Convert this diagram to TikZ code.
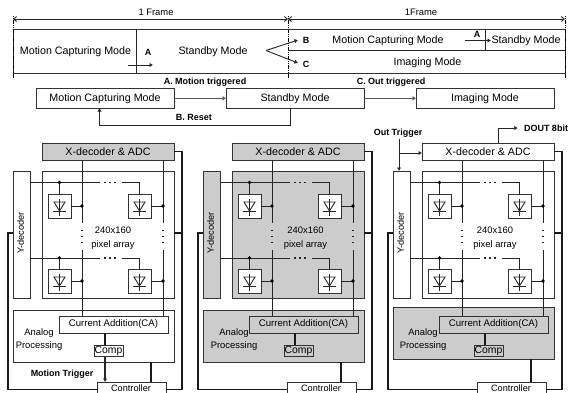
\documentclass[tikz,border=0pt]{standalone}
\usepackage{fontspec}
\setmainfont{Liberation Sans}
\usetikzlibrary{arrows.meta,calc}
\definecolor{gfill}{gray}{0.8}
\tikzset{
  x=1pt,y=-1pt,
  wire/.style={line width=0.9pt,black!85},
  hv/.style={line width=1.2pt,black!90},
  arr/.style={wire,-{Latex[length=3.5pt,width=4.5pt]}},
  garr/.style={line width=1.3pt,black!65,-{Latex[length=3.5pt,width=5pt]}},
  box/.style={draw=black!80,line width=0.85pt,inner sep=0pt,outer sep=0pt,anchor=north west},
  lab/.style={inner sep=0pt,font=\fontsize{10.7}{12}\selectfont},
  small/.style={inner sep=0pt,font=\fontsize{9.2}{11}\selectfont},
  blab/.style={inner sep=0pt,font=\fontsize{9}{11}\selectfont\bfseries},
  conn/.style={circle,fill=black,inner sep=0pt,minimum size=3.8pt},
  vdots/.style={line width=1.4pt,black!85,dash pattern=on 1.5pt off 4.5pt},
  hdots/.style={line width=1.2pt,black!85,dash pattern=on 1.5pt off 3.5pt},
  frameedge/.style={line width=0.9pt,black,dash pattern=on 1.2pt off 0.6pt},
}
\newcommand{\pixcell}[3]{% name, x, y (top-left)
  \node[box,fill=white,minimum width=23pt,minimum height=24pt] (#1) at (#2,#3) {};
  \draw[wire] ($(#1.center)+(0,-7.5)$) -- ($(#1.center)+(0,10)$);
  \draw[wire] ($(#1.center)+(-5.5,-4)$) -- ($(#1.center)+(5.5,-4)$) -- ($(#1.center)+(0,5)$) -- cycle;
  \draw[wire] ($(#1.center)+(-6.5,5)$) -- ($(#1.center)+(6.5,5)$);
}
\newcommand{\panelsk}[8]{
\begin{scope}[shift={(#2,0)}]
  \node[box,fill=#4,minimum width=132pt,minimum height=127pt] (#1arr) at (42,171) {};
  \node[box,fill=#5,minimum width=17pt,minimum height=127pt] (#1y) at (13,171) {};
  \node[rotate=90,small] at (20.5,233) {Y-decoder};
  \node[box,fill=#6,minimum width=161pt,minimum height=52pt] (#1ana) at (13,{310+#7}) {};
  \node[box,fill=#3,minimum width=132pt,minimum height=17pt] (#1x) at (42,143) {};
  \node[box,fill=#6,minimum width=109pt,minimum height=17pt] (#1ca) at (59,316) {};
  \node[box,fill=#6,minimum width=29pt,minimum height=11.5pt] (#1cmp) at (94,345) {};
  \node[box,fill=white,minimum width=69pt,minimum height=20pt] (#1ctl) at (97,382) {};
  \node[lab] at (#1x.center) {X-decoder \& ADC};
  \node[small,font=\fontsize{9.6}{11}\selectfont] at (#1ca.center) {Current Addition(CA)};
  \node[small,font=\fontsize{10.4}{11}\selectfont] at (#1cmp.center) {Comp};
  \node[small] at ($(#1ctl.north)+(-0.5,5.8)$) {Controller};
  \node[inner sep=0pt,font=\fontsize{9.4}{13}\selectfont,align=center] at ({39+#8},340) {Analog\\Processing};
  \node[inner sep=0pt,align=center,font=\fontsize{9.4}{14}\selectfont] at ({113+0.5*#8},238) {240x160\\pixel array};
  \pixcell{#1p1}{48}{194}
  \pixcell{#1p2}{128}{194}
  \pixcell{#1p3}{48}{269}
  \pixcell{#1p4}{128}{269}
  \coordinate (#1r1) at (#1p1.north |- 0,182.5);
  \coordinate (#1r2) at (#1p3.north |- 0,258);
  \draw[wire] (#1y.east |- #1r1) -- (100,182.5);
  \draw[hdots] (104,182.5) -- (118,182.5);
  \draw[wire] (122,182.5) -| (#1p2.north);
  \draw[wire] (#1r1) -- (#1p1.north);
  \node[conn] at (#1r1) {};
  \draw[wire] (#1y.east |- #1r2) -- (100,258);
  \draw[hdots] (104,258) -- (118,258);
  \draw[wire] (122,258) -| (#1p4.north);
  \draw[wire] (#1r2) -- (#1p3.north);
  \node[conn] at (#1r2) {};
  \foreach \cx/\a/\b in {82/p1/p3,163/p2/p4}{
    \draw[wire] (\cx,160) -- (\cx,223);
    \draw[vdots] (\cx,229.5) -- (\cx,245);
    \draw[wire] (\cx,250) -- (\cx,316);
    \draw[wire] (#1\a.east) -- (\cx,206);
    \draw[wire] (#1\b.east) -- (\cx,281);
    \node[conn] at (\cx,206) {};
    \node[conn] at (\cx,281) {};
  }
  \draw[hv] (#1x.east) -- (182,151.5) -- (182,389.5) -- (#1ctl.east |- 0,389.5);
  \draw[hv] (#1ctl.west |- 0,389.5) -- (8,389.5) -- (8,233) -- (#1y.west |- 0,233);
  \draw[hv] (#1arr.east |- 0,233) -- (182,233);
  \draw[hv] (105,333) -- (#1cmp.north -| 105,0);
  \draw[hv] (151,{362+#7}) -- (151,382);
\end{scope}
}
\begin{document}
\begin{tikzpicture}
\useasboundingbox (0,0) rectangle (570,392);
\clip (0,0) rectangle (570,392);
\fill[white] (0,0) rectangle (570,392);
% timing diagram
\coordinate (fa) at (13,19);
\coordinate (fb) at (288,19);
\coordinate (fc) at (565,19);
\draw[wire,{Straight Barb[length=3pt,width=5pt]}-{Straight Barb[length=3pt,width=5pt]}] (fa) -- (fb);
\draw[wire,{Straight Barb[length=3pt,width=5pt]}-{Straight Barb[length=3pt,width=5pt]}] (fb) -- (fc);
\node[small,font=\fontsize{9.4}{11}\selectfont] at (156,12) {1 Frame};
\node[small,font=\fontsize{9.4}{11}\selectfont] at (421,12) {1Frame};
\node[box,minimum width=552pt,minimum height=44pt] (tl) at (13,29) {};
\draw[frameedge] (13,16) -- (13,79);
\draw[frameedge] (288,16) -- (288,79);
\draw[frameedge] (565,16) -- (565,79);
\draw[wire] (136,29) -- (136,73);
\draw[wire] (288,50.5) -- (565,50.5);
\draw[wire] (485,29) -- (485,50.5);
\node[lab] (tm) at (75.5,52) {Motion Capturing Mode};
\node[lab] (ts) at (213,52) {Standby Mode};
\node[blab] (ta) at (148,52) {A};
\coordinate (a1s) at (128,65);
\coordinate (a1e) at (153,65);
\draw[arr] (a1s) -- (a1e);
\coordinate (tip) at (266,50.5);
\coordinate (bend) at (298,40);
\coordinate (cend) at (298,63);
\draw[arr] (tip) -- (bend);
\draw[arr] (tip) -- (cend);
\node[blab] at (306,40) {B};
\node[blab] at (306,64.5) {C};
\node[lab] at (388,41) {Motion Capturing Mode};
\node[lab] at (427.5,63) {Imaging Mode};
\node[lab] at (526,41) {Standby Mode};
\node[blab] at (477,34.5) {A};
\coordinate (a2s) at (465,40.5);
\coordinate (a2e) at (491,40.5);
\draw[arr] (a2s) -- (a2e);
% state diagram
\node[box,minimum width=138pt,minimum height=19.5pt] (m) at (36,88.5) {};
\node[lab] at (m.center) {Motion Capturing Mode};
\node[box,minimum width=138pt,minimum height=19.5pt] (s) at (226,88.5) {};
\node[lab] at (s.center) {Standby Mode};
\node[box,minimum width=138pt,minimum height=19.5pt] (i) at (416,88.5) {};
\node[lab] at (i.center) {Imaging Mode};
\draw[garr] (m) -- (s);
\draw[garr] (s) -- (i);
\draw[arr,line width=1pt] (s.south -| 290,0) -- (290,125) -- (99.5,125) -- (m.south -| 99.5,0);
\node[blab] at (205,82) {A. Motion triggered};
\node[blab] at (391,82) {C. Out triggered};
\node[blab] at (194,117) {B. Reset};
% panels
\panelsk{a}{0}{gfill}{white}{white}{white}{0}{0}
\panelsk{b}{190}{gfill}{gfill}{gfill}{gfill}{0}{5}
\panelsk{c}{380}{white}{white}{white}{gfill}{-3}{4}
% panel 1 motion trigger
\draw[arr,line width=1.1pt] (105,356.5) -- (actl.north -| 105,0);
\node[blab] at (62,374) {Motion Trigger};
% panel 3 triggers
\node[blab] (ot) at (398,133.5) {Out Trigger};
\draw[arr,line width=1pt] (399,139) -- (cy.north -| 399,0);
\draw[arr,line width=1pt] (399,153) -- (cx.west |- 0,153);
\node[blab] (dout) at (546,128) {DOUT 8bit};
\draw[arr,line width=1pt,shorten >=6pt] (cx.north -| 498,0) -- (498,128) -- (dout.west);
\end{tikzpicture}
\end{document}
